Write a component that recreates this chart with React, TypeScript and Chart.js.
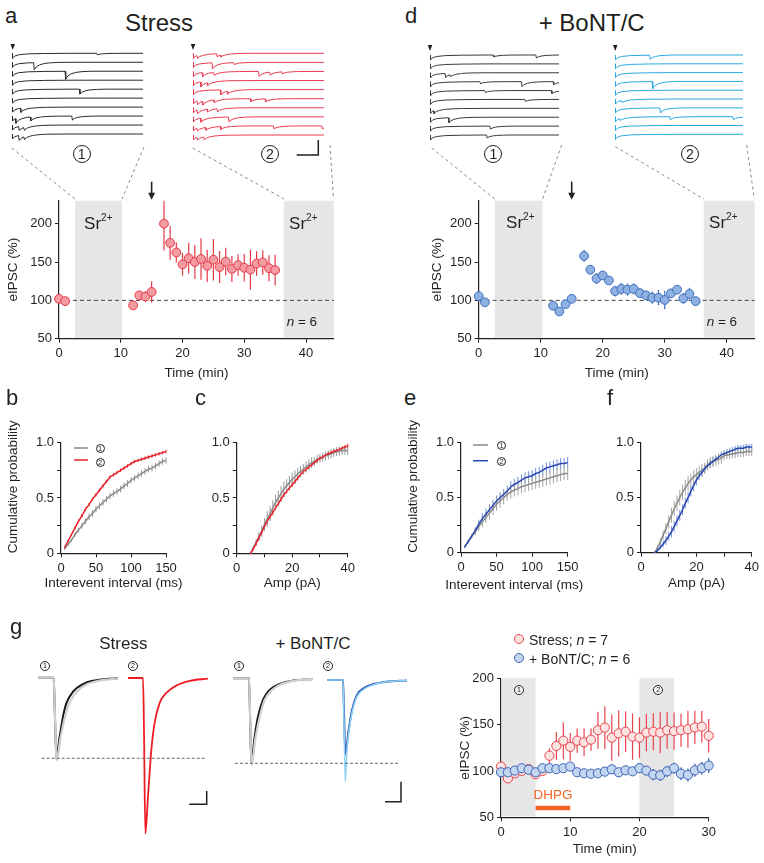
import React, { useEffect, useRef } from "react";
import { Chart, registerables } from "chart.js";
Chart.register(...registerables);

const FONT = '"Liberation Sans", Arial, Helvetica, sans-serif';
const INK = "#231f20";

// ---------------- DATA ----------------
// Panels a / d: eIPSC time course (min, %)
const AD_TIME = [0, 1, 12, 13, 14, 15, 17, 18, 19, 20, 21, 22, 23, 24, 25, 26, 27, 28, 29, 30, 31, 32, 33, 34, 35];
const A_STRESS = [102, 99, 93.5, 106.5, 105, 111, 200, 175, 162.5, 147, 155, 150, 154, 145, 153, 143.5, 150.5, 141, 146, 142.5, 140, 148, 149.5, 142, 139.5];
const A_STRESS_ERR = [2, 2, 5, 4, 7, 14, 35, 22, 13, 15, 20, 22, 27, 21, 27, 21, 18, 17, 14, 18, 26, 16, 16, 17, 20];
const D_BONT = [105.5, 97.5, 93, 85.5, 95, 102, 158, 140, 128.5, 132.5, 126, 112, 115, 114, 115, 109.5, 106.5, 103.5, 103.5, 100.5, 109, 114, 102.5, 108.5, 99];
const D_BONT_ERR = [3, 3, 4, 5, 5, 5, 8, 6, 7, 5, 5, 7, 8, 8, 7, 6, 6, 8, 10, 12, 6, 5, 7, 8, 6];

// Panels b / e: cumulative probability of interevent interval (ms)
const INTERVAL_MS = [5, 10, 15, 20, 25, 30, 35, 40, 45, 50, 55, 60, 65, 70, 75, 80, 85, 90, 95, 100, 105, 110, 115, 120, 125, 130, 135, 140, 145, 150];
const B_GRAY = [0.04, 0.08, 0.12, 0.17, 0.21, 0.25, 0.29, 0.33, 0.36, 0.4, 0.43, 0.46, 0.49, 0.52, 0.54, 0.56, 0.58, 0.61, 0.63, 0.66, 0.68, 0.7, 0.72, 0.74, 0.76, 0.77, 0.79, 0.81, 0.83, 0.84];
const B_GRAY_ERR = [0.01, 0.01, 0.015, 0.02, 0.02, 0.025, 0.025, 0.03, 0.03, 0.03, 0.03, 0.03, 0.03, 0.03, 0.03, 0.03, 0.03, 0.03, 0.03, 0.03, 0.03, 0.03, 0.03, 0.03, 0.03, 0.03, 0.03, 0.03, 0.03, 0.03];
const B_RED = [0.05, 0.11, 0.17, 0.23, 0.29, 0.34, 0.4, 0.44, 0.49, 0.53, 0.57, 0.61, 0.65, 0.69, 0.71, 0.73, 0.75, 0.77, 0.79, 0.81, 0.83, 0.84, 0.85, 0.86, 0.87, 0.88, 0.89, 0.9, 0.91, 0.92];
const B_RED_ERR = [0.01, 0.01, 0.01, 0.012, 0.012, 0.015, 0.015, 0.015, 0.015, 0.015, 0.015, 0.015, 0.015, 0.015, 0.015, 0.015, 0.015, 0.015, 0.015, 0.015, 0.015, 0.015, 0.015, 0.015, 0.015, 0.015, 0.015, 0.015, 0.015, 0.015];
const E_GRAY = [0.05, 0.1, 0.15, 0.19, 0.24, 0.28, 0.32, 0.36, 0.4, 0.44, 0.47, 0.5, 0.53, 0.55, 0.57, 0.58, 0.6, 0.61, 0.62, 0.63, 0.64, 0.65, 0.66, 0.67, 0.68, 0.69, 0.7, 0.71, 0.72, 0.72];
const E_GRAY_ERR = [0.01, 0.015, 0.02, 0.03, 0.04, 0.05, 0.05, 0.06, 0.06, 0.06, 0.06, 0.06, 0.06, 0.06, 0.06, 0.06, 0.06, 0.06, 0.06, 0.06, 0.06, 0.06, 0.06, 0.06, 0.06, 0.06, 0.06, 0.06, 0.06, 0.06];
const E_BLUE = [0.05, 0.1, 0.15, 0.2, 0.26, 0.31, 0.35, 0.39, 0.43, 0.47, 0.5, 0.53, 0.56, 0.6, 0.62, 0.64, 0.66, 0.68, 0.69, 0.7, 0.72, 0.73, 0.75, 0.77, 0.78, 0.79, 0.8, 0.81, 0.81, 0.82];
const E_BLUE_ERR = [0.01, 0.015, 0.02, 0.03, 0.04, 0.05, 0.05, 0.05, 0.05, 0.05, 0.05, 0.05, 0.05, 0.05, 0.05, 0.05, 0.05, 0.05, 0.05, 0.05, 0.05, 0.05, 0.05, 0.05, 0.05, 0.05, 0.05, 0.05, 0.05, 0.05];

// Panels c / f: cumulative probability of amplitude (pA)
const AMP_PA = [5, 6, 7, 8, 9, 10, 11, 12, 13, 14, 15, 16, 17, 18, 19, 20, 21, 22, 23, 24, 25, 26, 27, 28, 29, 30, 31, 32, 33, 34, 35, 36, 37, 38, 39, 40];
const C_GRAY = [0, 0.05, 0.1, 0.15, 0.2, 0.26, 0.31, 0.36, 0.41, 0.46, 0.5, 0.54, 0.58, 0.61, 0.64, 0.67, 0.69, 0.72, 0.74, 0.76, 0.78, 0.8, 0.82, 0.83, 0.85, 0.86, 0.87, 0.88, 0.89, 0.9, 0.91, 0.92, 0.92, 0.93, 0.93, 0.93];
const C_GRAY_ERR = [0.01, 0.02, 0.03, 0.04, 0.05, 0.06, 0.07, 0.07, 0.07, 0.07, 0.07, 0.07, 0.07, 0.06, 0.06, 0.06, 0.06, 0.05, 0.05, 0.05, 0.05, 0.05, 0.05, 0.04, 0.04, 0.04, 0.04, 0.04, 0.04, 0.04, 0.04, 0.04, 0.04, 0.04, 0.04, 0.04];
const C_RED = [0, 0.04, 0.09, 0.14, 0.19, 0.24, 0.29, 0.33, 0.37, 0.41, 0.45, 0.49, 0.53, 0.56, 0.59, 0.62, 0.65, 0.68, 0.71, 0.74, 0.76, 0.78, 0.8, 0.82, 0.84, 0.86, 0.87, 0.89, 0.9, 0.91, 0.92, 0.93, 0.94, 0.95, 0.96, 0.97];
const C_RED_ERR = [0.01, 0.015, 0.02, 0.02, 0.02, 0.02, 0.02, 0.02, 0.02, 0.02, 0.02, 0.02, 0.02, 0.02, 0.02, 0.02, 0.02, 0.02, 0.02, 0.02, 0.02, 0.02, 0.02, 0.02, 0.02, 0.02, 0.02, 0.02, 0.02, 0.02, 0.02, 0.02, 0.02, 0.02, 0.02, 0.02];
const F_GRAY = [0, 0.05, 0.1, 0.16, 0.22, 0.28, 0.34, 0.4, 0.45, 0.5, 0.55, 0.59, 0.63, 0.66, 0.69, 0.71, 0.73, 0.75, 0.77, 0.8, 0.82, 0.83, 0.84, 0.85, 0.86, 0.88, 0.89, 0.89, 0.9, 0.9, 0.91, 0.91, 0.91, 0.92, 0.92, 0.92];
const F_GRAY_ERR = [0.01, 0.02, 0.03, 0.04, 0.05, 0.06, 0.07, 0.07, 0.07, 0.07, 0.07, 0.07, 0.07, 0.06, 0.06, 0.06, 0.06, 0.06, 0.05, 0.05, 0.05, 0.05, 0.05, 0.05, 0.05, 0.04, 0.04, 0.04, 0.04, 0.04, 0.04, 0.04, 0.04, 0.04, 0.04, 0.04];
const F_BLUE = [0, 0.02, 0.05, 0.08, 0.11, 0.15, 0.19, 0.24, 0.29, 0.34, 0.39, 0.45, 0.5, 0.56, 0.61, 0.66, 0.7, 0.73, 0.76, 0.79, 0.81, 0.83, 0.85, 0.87, 0.89, 0.9, 0.91, 0.92, 0.93, 0.94, 0.95, 0.95, 0.95, 0.96, 0.96, 0.96];
const F_BLUE_ERR = [0.01, 0.015, 0.02, 0.03, 0.04, 0.04, 0.05, 0.05, 0.05, 0.05, 0.05, 0.05, 0.05, 0.05, 0.05, 0.05, 0.04, 0.04, 0.04, 0.04, 0.04, 0.04, 0.03, 0.03, 0.03, 0.03, 0.03, 0.03, 0.03, 0.03, 0.03, 0.03, 0.03, 0.03, 0.03, 0.03];

// Panel g: DHPG time course (min, %)
const G_TIME = [0, 1, 2, 3, 4, 5, 6, 7, 8, 9, 10, 11, 12, 13, 14, 15, 16, 17, 18, 19, 20, 21, 22, 23, 24, 25, 26, 27, 28, 29, 30];
const G_STRESS = [104.7, 92, 97.5, 100, 102, 96.4, 100, 116.5, 127, 132.7, 126, 132.7, 131, 133.8, 144, 146.8, 136, 140.6, 142.4, 137, 136, 141.4, 142.4, 141.4, 144, 143, 144, 145, 147, 147.8, 138];
const G_STRESS_ERR = [3, 3, 3, 3, 3, 3, 3, 8, 15, 20, 15, 13, 15, 12, 20, 23, 25, 25, 22, 25, 22, 20, 20, 22, 20, 20, 18, 20, 18, 17, 18];
const G_BONT = [98.6, 98.6, 100.4, 103, 101.4, 98.6, 103, 103, 102, 103, 104.7, 98.6, 97.5, 97, 97.5, 99.3, 101.8, 98.6, 100.7, 99.6, 103, 100.4, 96, 95.3, 99.6, 103, 97, 95.7, 100.7, 103, 105.8];
const G_BONT_ERR = [3, 3, 3, 3, 3, 3, 4, 4, 4, 4, 4, 4, 4, 4, 4, 5, 5, 5, 5, 5, 5, 5, 6, 6, 6, 6, 7, 7, 7, 7, 8];

// Example sweeps: events per sweep as [position in sweep (0-1), amplitude (pA)]
const EVOKED_PA = 25;
const SWEEPS_A1 = [
  [[0.646, 8]], [[0.165, 35]], [[0.405, 40]], [], [[0.514, 25]], [],
  [[0.063, 20]], [[0.025, 25], [0.139, 20], [0.456, 20]], [[0.05, 20], [0.089, 15]], [[0.05, 25], [0.09, 15]],
];
const SWEEPS_A2 = [
  [[0.03, 15], [0.18, 15], [0.208, 10]], [[0.145, 30], [0.31, 10]],
  [[0.069, 20], [0.157, 15], [0.5, 25], [0.584, 15], [0.678, 10]], [[0.056, 25], [0.107, 15]],
  [[0.208, 25], [0.26, 15]], [[0.03, 20], [0.069, 20], [0.157, 15], [0.437, 15], [0.55, 15]],
  [[0.03, 20], [0.107, 15], [0.183, 15]], [[0.056, 20], [0.27, 25]],
  [[0.03, 15], [0.094, 15], [0.208, 15], [0.614, 15], [0.982, 15]], [[0.03, 15], [0.081, 15]],
];
const SWEEPS_D1 = [
  [[0.49, 10], [0.82, 15]], [], [[0.116, 20], [0.155, 10]], [[0.387, 10], [0.709, 25], [0.954, 15]],
  [[0.425, 10], [0.94, 15]], [[0.735, 10]], [[0.026, 15]], [[0.142, 25]], [[0.464, 15]], [[0.438, 15]],
];
const SWEEPS_D2 = [
  [[0.27, 20]], [], [], [[0.29, 35]], [], [[0.05, 10]], [[0.35, 25]],
  [[0.036, 10], [0.427, 15], [0.92, 15]], [], [],
];
// Event / evoked waveform templates (relative)
const EVENT_SHAPE = [[0, 0], [0.005, -1], [0.02, -0.6], [0.045, -0.33], [0.08, -0.15], [0.13, -0.05], [0.2, 0]];
const EVOKED_SHAPE = [[0, 0], [0.004, -1], [0.02, -0.55], [0.05, -0.3], [0.12, -0.12], [0.25, -0.04], [0.45, 0]];

// Panel g averaged eIPSC traces: [ms, pA]
const TR_STRESS_1 = [[0, 0], [19.6, 0], [21, -250], [22.9, -605], [27.1, -442], [31.3, -292], [35.4, -192], [43.8, -105], [56.3, -48], [68.8, -23], [85.4, -10], [100, -5]];
const TR_STRESS_1_SEM = [[0, 0], [19.6, 0], [21, -240], [23.3, -620], [28, -455], [33, -310], [38, -210], [47, -115], [60, -52], [75, -24], [100, -6]];
const TR_STRESS_2 = [[0, 0], [18.8, 0], [20, -400], [21.7, -1167], [25, -887], [29.2, -537], [33.3, -337], [39.6, -187], [47.9, -112], [60.4, -57], [77.1, -22], [100, -5]];
const TR_BONT_1 = [[0, 0], [20, 0], [21.2, -250], [22.9, -637], [27.1, -437], [31.3, -287], [37.5, -162], [45.8, -87], [58.3, -42], [75, -17], [100, -5]];
const TR_BONT_1_SEM = [[0, 0], [20, 0], [21.2, -240], [23.2, -650], [28, -450], [33, -300], [39, -170], [48, -92], [60, -45], [77, -18], [100, -5]];
const TR_BONT_2 = [[0, 0], [20, 0], [21.2, -220], [22.9, -557], [27.1, -375], [31.3, -225], [37.5, -112], [45.8, -62], [58.3, -30], [75, -12], [100, -3]];
const TR_BONT_2_SEM = [[0, 0], [20, 0], [21.2, -300], [22.9, -762], [25, -520], [27.1, -400], [31.3, -245], [37.5, -125], [45.8, -70], [58.3, -35], [75, -14], [100, -3]];

// ---------------- HELPERS ----------------
const pts = (xs: number[], ys: number[]) => xs.map((x, i) => ({ x, y: ys[i] }));

function annotPlugin(a: any) {
  return {
    id: "annot",
    beforeDatasetsDraw(chart: any) {
      const { ctx, chartArea: ca, scales } = chart;
      const x = scales.x, y = scales.y;
      ctx.save();
      (a.bands || []).forEach((b: any) => {
        const x0 = Math.max(x.getPixelForValue(b.from), ca.left + 1);
        const x1 = x.getPixelForValue(b.to);
        ctx.fillStyle = b.color;
        ctx.fillRect(x0, ca.top, x1 - x0, ca.bottom - ca.top - 1);
      });
      (a.hlines || []).forEach((h: any) => {
        const py = y.getPixelForValue(h.y);
        ctx.strokeStyle = h.color;
        ctx.lineWidth = 1;
        ctx.setLineDash(h.dash);
        ctx.beginPath();
        ctx.moveTo(x.getPixelForValue(x.min), py);
        ctx.lineTo(x.getPixelForValue(x.max), py);
        ctx.stroke();
        ctx.setLineDash([]);
      });
      ctx.beginPath();
      ctx.rect(ca.left - 20, ca.top, ca.width + 40, ca.height);
      ctx.clip();
      chart.data.datasets.forEach((ds: any) => {
        if (!ds.errors) return;
        ctx.strokeStyle = ds.errorColor;
        ctx.lineWidth = ds.errorWidth || 1;
        ds.data.forEach((p: any, j: number) => {
          const e = ds.errors[j];
          if (!e) return;
          const px = x.getPixelForValue(p.x);
          ctx.beginPath();
          ctx.moveTo(px, y.getPixelForValue(p.y - e));
          ctx.lineTo(px, y.getPixelForValue(p.y + e));
          ctx.stroke();
        });
      });
      ctx.restore();
    },
    afterDatasetsDraw(chart: any) {
      const { ctx, chartArea: ca, scales } = chart;
      const x = scales.x, y = scales.y;
      ctx.save();
      (a.arrows || []).forEach((ar: any) => {
        const px = x.getPixelForValue(ar.x);
        const y0 = ca.top - ar.len, y1 = ca.top - 1;
        ctx.strokeStyle = INK;
        ctx.fillStyle = INK;
        ctx.lineWidth = 1.6;
        ctx.beginPath();
        ctx.moveTo(px, y0);
        ctx.lineTo(px, y1 - 5);
        ctx.stroke();
        ctx.beginPath();
        ctx.moveTo(px - 3.5, y1 - 7);
        ctx.lineTo(px + 3.5, y1 - 7);
        ctx.lineTo(px, y1);
        ctx.closePath();
        ctx.fill();
      });
      (a.segs || []).forEach((s: any) => {
        const py = y.getPixelForValue(s.y);
        ctx.strokeStyle = s.color;
        ctx.lineWidth = s.width;
        ctx.beginPath();
        ctx.moveTo(x.getPixelForValue(s.x0), py);
        ctx.lineTo(x.getPixelForValue(s.x1), py);
        ctx.stroke();
      });
      (a.texts || []).forEach((t: any) => {
        ctx.fillStyle = t.color;
        ctx.font = `${t.size}px ${FONT}`;
        ctx.textAlign = "center";
        ctx.textBaseline = "alphabetic";
        ctx.fillText(t.text, x.getPixelForValue(t.x), y.getPixelForValue(t.y));
      });
      ctx.restore();
    },
  };
}

function axis(min: number, max: number, ticks: number[], title: string, titleAlign: string, label: (v: number) => string) {
  return {
    type: "linear",
    min,
    max,
    offset: false,
    grid: { display: true, drawOnChartArea: false, drawTicks: true, tickLength: 4, color: INK, lineWidth: 1 },
    border: { display: true, color: INK, width: 1.2 },
    ticks: { color: INK, font: { family: FONT, size: 13 }, padding: 3, maxRotation: 0, autoSkip: false, callback: (v: number) => label(v) },
    afterBuildTicks: (s: any) => {
      s.ticks = ticks.map((v) => ({ value: v }));
    },
    title: { display: !!title, text: title, color: INK, align: titleAlign, font: { family: FONT, size: 13.5 }, padding: 0 },
  };
}

const num = (v: number) => String(v);
const prob = (v: number) => (v === 0 ? "0" : v === 0.5 ? "0.5" : v === 1 ? "1.0" : "");

function PlotChart({ plot, m, build }: any) {
  const ref = useRef<HTMLCanvasElement>(null);
  const left = Math.round(plot.L - m.l);
  const top = Math.round(plot.T - m.t);
  const width = Math.round(plot.R + m.r) - left;
  const height = Math.round(plot.B + m.b) - top;
  const ml = plot.L - left, mt = plot.T - top, mr = left + width - plot.R, mb = top + height - plot.B;
  useEffect(() => {
    const c = build();
    c.options.layout = { padding: { left: 0, top: mt, right: mr, bottom: 0 } };
    c.options.scales.x.afterFit = (s: any) => { s.height = mb; };
    c.options.scales.y.afterFit = (s: any) => { s.width = ml; };
    const chart = new Chart(ref.current as HTMLCanvasElement, c);
    return () => chart.destroy();
  }, []);
  return <canvas ref={ref} width={width} height={height} style={{ position: "absolute", left, top, width, height }} />;
}

function baseOpts(x: any, y: any) {
  return {
    responsive: false,
    animation: false,
    events: [],
    plugins: { legend: { display: false }, tooltip: { enabled: false } },
    scales: { x, y },
  };
}

function timecourse(series: any[], x: any, y: any, annot: any) {
  return () => ({
    type: "scatter",
    data: {
      datasets: series.map((s) => ({
        data: pts(s.x, s.y),
        errors: s.err,
        errorColor: s.errColor,
        errorWidth: 1.2,
        showLine: false,
        pointRadius: s.r,
        pointBackgroundColor: s.fill,
        pointBorderColor: s.border,
        pointBorderWidth: 1,
        clip: false,
      })),
    },
    options: baseOpts(x, y),
    plugins: [annotPlugin(annot)],
  });
}

function cumulative(series: any[], x: any, y: any) {
  return () => ({
    type: "scatter",
    data: {
      datasets: series.map((s) => ({
        data: pts(s.x, s.y),
        errors: s.err,
        errorColor: s.errColor,
        errorWidth: 1,
        showLine: true,
        borderColor: s.color,
        borderWidth: 1.5,
        pointRadius: 0,
        tension: 0,
        clip: false,
      })),
    },
    options: baseOpts(x, y),
    plugins: [annotPlugin({})],
  });
}

function TraceChart({ left, top, width, height, xMin, xMax, yMin, yMax, datasets }: any) {
  const ref = useRef<HTMLCanvasElement>(null);
  useEffect(() => {
    const chart = new Chart(ref.current as HTMLCanvasElement, {
      type: "scatter",
      data: { datasets },
      options: {
        responsive: false,
        animation: false,
        events: [],
        layout: { padding: 0 },
        plugins: { legend: { display: false }, tooltip: { enabled: false } },
        scales: {
          x: { type: "linear", display: false, min: xMin, max: xMax },
          y: { type: "linear", display: false, min: yMin, max: yMax },
        },
      },
    } as any);
    return () => chart.destroy();
  }, []);
  return <canvas ref={ref} width={width} height={height} style={{ position: "absolute", left, top, width, height }} />;
}

function shapeAt(shape: number[][], dt: number) {
  if (dt <= 0 || dt >= shape[shape.length - 1][0]) return 0;
  for (let k = 1; k < shape.length; k++) {
    if (dt <= shape[k][0]) {
      const [x0, y0] = shape[k - 1];
      const [x1, y1] = shape[k];
      return y0 + ((y1 - y0) * (dt - x0)) / (x1 - x0);
    }
  }
  return 0;
}

function sweepPoints(events: number[][], evoked: number, base: number) {
  const evs = [{ p: 0, a: evoked, s: EVOKED_SHAPE }, ...events.map(([p, a]) => ({ p, a, s: EVENT_SHAPE }))];
  const xs = new Set<number>([0, 1]);
  evs.forEach((e) => e.s.forEach(([dx]) => {
    const v = +(e.p + dx).toFixed(5);
    if (v >= 0 && v <= 1) xs.add(v);
  }));
  return [...xs].sort((a, b) => a - b).map((xv) => ({
    x: xv,
    y: base + evs.reduce((acc, e) => acc + e.a * shapeAt(e.s, xv - e.p), 0),
  }));
}

const PA_PER_PX_SWEEP = 5;
function SweepStack({ x0, x1, y0, y1, sweeps, color }: any) {
  const left = Math.round(x0);
  const width = Math.round(x1) - left;
  const top = Math.round(y0 - 8);
  const bottom = Math.round(y1 + 14);
  const spacing = ((y1 - y0) / (sweeps.length - 1)) * PA_PER_PX_SWEEP;
  const datasets = sweeps.map((ev: number[][], i: number) => ({
    data: sweepPoints(ev, EVOKED_PA, -i * spacing),
    showLine: true,
    borderColor: color,
    borderWidth: 1,
    pointRadius: 0,
    tension: 0,
    clip: false,
  }));
  return (
    <TraceChart left={left} top={top} width={width} height={bottom - top} xMin={0} xMax={1}
      yMax={(y0 - top) * PA_PER_PX_SWEEP} yMin={-(bottom - y0) * PA_PER_PX_SWEEP} datasets={datasets} />
  );
}

const PA_PER_PX_TRACE = 7.5;
function EpscTrace({ x0, x1, base, traces }: any) {
  const left = Math.round(x0);
  const width = Math.round(x1) - left;
  const top = 668, bottom = 842;
  const datasets = traces.map((t: any) => ({
    data: t.d.map(([x, y]: number[]) => ({ x, y })),
    showLine: true,
    borderColor: t.color,
    borderWidth: t.w,
    pointRadius: 0,
    cubicInterpolationMode: "monotone",
    clip: false,
  }));
  return (
    <TraceChart left={left} top={top} width={width} height={bottom - top} xMin={0} xMax={100}
      yMax={(base - top) * PA_PER_PX_TRACE} yMin={-(bottom - base) * PA_PER_PX_TRACE} datasets={datasets} />
  );
}

function Txt({ x, y, size, align = "left", children, color = INK, italic = false }: any) {
  return (
    <div style={{
      position: "absolute", left: x, top: y - 0.8465 * size, fontSize: size, lineHeight: `${size}px`,
      fontFamily: FONT, color, whiteSpace: "nowrap", fontStyle: italic ? "italic" : "normal",
      transform: align === "center" ? "translateX(-50%)" : undefined,
    }}>{children}</div>
  );
}

function Circ({ cx, cy, d, n, size }: any) {
  return (
    <div style={{
      position: "absolute", left: cx - d / 2, top: cy - d / 2, width: d, height: d, boxSizing: "border-box",
      border: `1px solid ${INK}`, borderRadius: "50%", fontSize: size, lineHeight: `${d - 2}px`,
      textAlign: "center", fontFamily: FONT, color: INK, background: "#fff",
    }}>{n}</div>
  );
}

function Dot({ cx, cy, d, fill, border }: any) {
  return <div style={{ position: "absolute", left: cx - d / 2, top: cy - d / 2, width: d, height: d, boxSizing: "border-box", border: `1.2px solid ${border}`, borderRadius: "50%", background: fill }} />;
}

const Sr = ({ x, y }: any) => (
  <Txt x={x} y={y} size={17} align="center">Sr<span style={{ fontSize: 10, position: "relative", top: -8 }}>2+</span></Txt>
);

const N6 = ({ x, y }: any) => (
  <Txt x={x} y={y} size={13.5}><i>n</i> = 6</Txt>
);

// ---------------- APP ----------------
export default function App() {
  const RED_M = { fill: "#f49aa1", border: "#e63946", err: "#e63946" };
  const BLUE_M = { fill: "#8fb1e2", border: "#3f6fc0", err: "#3f6fc0" };
  const bandGray = "#e6e6e6";

  const adY = () => axis(50, 230, [50, 100, 150, 200], "eIPSC (%)", "center", num);

  return (
    <div style={{ position: "absolute", left: 0, top: 0, width: 764, height: 863, background: "#fff", overflow: "hidden" }}>
      {/* ---- Panel a ---- */}
      <Txt x={5} y={23.3} size={22}>a</Txt>
      <Txt x={159} y={31.7} size={24} align="center">Stress</Txt>
      <SweepStack x0={11.7} x1={143.3} y0={53.3} y1={134} sweeps={SWEEPS_A1} color="#2a2a2a" />
      <SweepStack x0={192.7} x1={324} y0={53.3} y1={135} sweeps={SWEEPS_A2} color="#ea3a4f" />
      <Circ cx={81.7} cy={154} d={18} n="1" size={14} />
      <Circ cx={270} cy={154} d={18} n="2" size={14} />
      <PlotChart plot={{ L: 59, T: 200.7, R: 333.8, B: 338.7 }} m={{ l: 53.8, t: 23, r: 6, b: 42.1 }}
        build={timecourse(
          [{ x: AD_TIME, y: A_STRESS, err: A_STRESS_ERR, r: 4.4, fill: RED_M.fill, border: RED_M.border, errColor: RED_M.err }],
          axis(0, 44.5, [0, 10, 20, 30, 40], "Time (min)", "center", num), adY(),
          { bands: [{ from: 2.6, to: 10.2, color: bandGray }, { from: 36.4, to: 44.5, color: bandGray }],
            hlines: [{ y: 100, color: "#444", dash: [4, 3] }], arrows: [{ x: 15, len: 19 }] })} />
      <Sr x={98.3} y={229.3} />
      <Sr x={303.3} y={229.3} />
      <N6 x={286.7} y={326.7} />

      {/* ---- Panel d ---- */}
      <Txt x={405} y={23.3} size={22}>d</Txt>
      <Txt x={591.7} y={31.7} size={24} align="center">+ BoNT/C</Txt>
      <SweepStack x0={430} x1={559.3} y0={55} y1={135} sweeps={SWEEPS_D1} color="#3a3a3a" />
      <SweepStack x0={615.3} x1={743.3} y0={55} y1={134.3} sweeps={SWEEPS_D2} color="#27a9e1" />
      <Circ cx={493.3} cy={154} d={18} n="1" size={14} />
      <Circ cx={690} cy={154} d={18} n="2" size={14} />
      <PlotChart plot={{ L: 478.7, T: 200.7, R: 754.6, B: 338.7 }} m={{ l: 50.1, t: 23, r: 6, b: 42.1 }}
        build={timecourse(
          [{ x: AD_TIME, y: D_BONT, err: D_BONT_ERR, r: 4.4, fill: BLUE_M.fill, border: BLUE_M.border, errColor: BLUE_M.err }],
          axis(0, 44.5, [0, 10, 20, 30, 40], "Time (min)", "center", num), adY(),
          { bands: [{ from: 2.6, to: 10.3, color: bandGray }, { from: 36.3, to: 44.5, color: bandGray }],
            hlines: [{ y: 100, color: "#444", dash: [4, 3] }], arrows: [{ x: 15, len: 19 }] })} />
      <Sr x={520.3} y={228.3} />
      <Sr x={723.3} y={228.3} />
      <N6 x={706.7} y={326.7} />

      {/* ---- Panels b, c ---- */}
      <Txt x={6} y={406} size={22}>b</Txt>
      <Txt x={195} y={406} size={22}>c</Txt>
      <PlotChart plot={{ L: 61, T: 442.7, R: 166, B: 553.3 }} m={{ l: 55.8, t: 34, r: 14, b: 37.5 }}
        build={cumulative(
          [{ x: INTERVAL_MS, y: B_RED, err: B_RED_ERR, color: "#e8202a", errColor: "#e8202a" },
           { x: INTERVAL_MS, y: B_GRAY, err: B_GRAY_ERR, color: "#8a8a8a", errColor: "#9a9a9a" }],
          axis(0, 150, [0, 50, 100, 150], "", "center", num),
          axis(0, 1, [0, 0.25, 0.5, 0.75, 1], "Cumulative probability", "start", prob))} />
      <Txt x={113.5} y={587.5} size={13.5} align="center">Interevent interval (ms)</Txt>
      <PlotChart plot={{ L: 236.7, T: 442.7, R: 347.7, B: 553.3 }} m={{ l: 40, t: 12, r: 12, b: 37.5 }}
        build={cumulative(
          [{ x: AMP_PA, y: C_RED, err: C_RED_ERR, color: "#e8202a", errColor: "#e8202a" },
           { x: AMP_PA, y: C_GRAY, err: C_GRAY_ERR, color: "#8a8a8a", errColor: "#9a9a9a" }],
          axis(0, 40, [0, 10, 20, 30, 40], "Amp (pA)", "center", (v) => (v % 20 === 0 ? String(v) : "")),
          axis(0, 1, [0, 0.25, 0.5, 0.75, 1], "", "center", prob))} />

      {/* ---- Panels e, f ---- */}
      <Txt x={404} y={406} size={22}>e</Txt>
      <Txt x={607} y={406} size={22}>f</Txt>
      <PlotChart plot={{ L: 461, T: 442.7, R: 567.7, B: 552.7 }} m={{ l: 55.8, t: 34, r: 14, b: 40.4 }}
        build={cumulative(
          [{ x: INTERVAL_MS, y: E_BLUE, err: E_BLUE_ERR, color: "#2846b0", errColor: "#6f8fe0" },
           { x: INTERVAL_MS, y: E_GRAY, err: E_GRAY_ERR, color: "#8a8a8a", errColor: "#a5a5a5" }],
          axis(0, 150, [0, 50, 100, 150], "", "center", num),
          axis(0, 1, [0, 0.25, 0.5, 0.75, 1], "Cumulative probability", "start", prob))} />
      <Txt x={514.3} y={589.8} size={13.5} align="center">Interevent interval (ms)</Txt>
      <PlotChart plot={{ L: 641, T: 442.7, R: 752.3, B: 552.7 }} m={{ l: 40, t: 12, r: 10, b: 38.1 }}
        build={cumulative(
          [{ x: AMP_PA, y: F_BLUE, err: F_BLUE_ERR, color: "#2846b0", errColor: "#6f8fe0" },
           { x: AMP_PA, y: F_GRAY, err: F_GRAY_ERR, color: "#8a8a8a", errColor: "#a5a5a5" }],
          axis(0, 40, [0, 10, 20, 30, 40], "Amp (pA)", "center", (v) => (v % 20 === 0 ? String(v) : "")),
          axis(0, 1, [0, 0.25, 0.5, 0.75, 1], "", "center", prob))} />

      {/* legends b / e */}
      <Circ cx={100} cy={448} d={9} n="1" size={7.5} />
      <Circ cx={100} cy={462} d={9} n="2" size={7.5} />
      <Circ cx={501.7} cy={445.7} d={9} n="1" size={7.5} />
      <Circ cx={501.7} cy={461.5} d={9} n="2" size={7.5} />

      {/* ---- Panel g ---- */}
      <Txt x={10} y={635} size={22}>g</Txt>
      <Txt x={123.3} y={649} size={17} align="center">Stress</Txt>
      <Txt x={313} y={649} size={17} align="center">+ BoNT/C</Txt>
      <EpscTrace x0={38} x1={118} base={677.7}
        traces={[{ d: TR_STRESS_1_SEM, color: "#cfcfcf", w: 2.2 }, { d: TR_STRESS_1, color: "#151515", w: 2 }]} />
      <EpscTrace x0={128} x1={208} base={678}
        traces={[{ d: TR_STRESS_2, color: "#ee1c25", w: 1.8 }]} />
      <EpscTrace x0={233} x1={313} base={678.3}
        traces={[{ d: TR_BONT_1_SEM, color: "#cfcfcf", w: 2.2 }, { d: TR_BONT_1, color: "#151515", w: 2 }]} />
      <EpscTrace x0={326.7} x1={406.7} base={680}
        traces={[{ d: TR_BONT_2_SEM, color: "#8fd3f4", w: 1.5 }, { d: TR_BONT_2, color: "#2a4fb0", w: 2 }]} />
      <Circ cx={45} cy={666} d={10} n="1" size={8} />
      <Circ cx={133} cy={666} d={10} n="2" size={8} />
      <Circ cx={239} cy={666} d={10} n="1" size={8} />
      <Circ cx={328} cy={666} d={10} n="2" size={8} />

      <PlotChart plot={{ L: 501, T: 678.3, R: 708.7, B: 817.3 }} m={{ l: 44.1, t: 12, r: 10, b: 40.1 }}
        build={timecourse(
          [{ x: G_TIME, y: G_BONT, err: G_BONT_ERR, r: 4.6, fill: "#c3d6ef", border: "#3d62b8", errColor: "#3d62b8" },
           { x: G_TIME, y: G_STRESS, err: G_STRESS_ERR, r: 4.6, fill: "#fde2e2", border: "#e8444c", errColor: "#e8444c" }],
          axis(0, 30, [0, 10, 20, 30], "Time (min)", "center", num),
          axis(50, 200, [50, 100, 150, 200], "eIPSC (%)", "center", num),
          { bands: [{ from: 0, to: 5, color: bandGray }, { from: 20, to: 25, color: bandGray }],
            segs: [{ x0: 5, x1: 10, y: 60, color: "#f26522", width: 4.5 }],
            texts: [{ x: 7.5, y: 69.5, text: "DHPG", color: "#f26522", size: 13.5 }] })} />
      <Circ cx={519} cy={690} d={10} n="1" size={8} />
      <Circ cx={658.3} cy={690} d={10} n="2" size={8} />
      <Dot cx={519} cy={639.3} d={10} fill="#fde2e2" border="#e8444c" />
      <Txt x={529} y={644.5} size={14}>Stress; <i>n</i> = 7</Txt>
      <Dot cx={519} cy={658.3} d={10} fill="#c3d6ef" border="#3d62b8" />
      <Txt x={529} y={663.5} size={14}>+ BoNT/C; <i>n</i> = 6</Txt>

      {/* ---- decorative overlay ---- */}
      <svg width={764} height={863} style={{ position: "absolute", left: 0, top: 0, pointerEvents: "none" }}>
        <g stroke="#8a8a8a" strokeWidth={1} strokeDasharray="3 3" fill="none">
          <line x1={11.7} y1={148} x2={75} y2={199} />
          <line x1={144} y1={147} x2={122} y2={199} />
          <line x1={192.7} y1={148} x2={284} y2={199} />
          <line x1={330} y1={145} x2={333.5} y2={199} />
          <line x1={431.7} y1={148} x2={494.8} y2={199} />
          <line x1={561.7} y1={145} x2={542.6} y2={199} />
          <line x1={615.3} y1={146.7} x2={703.8} y2={199} />
          <line x1={746.7} y1={145} x2={754.3} y2={199} />
        </g>
        <g fill={INK}>
          <polygon points="10.5,44 15,44 12.7,50" />
          <polygon points="190.8,44 195.3,44 193,50" />
          <polygon points="427.8,45 432.3,45 430,51" />
          <polygon points="613,45 617.5,45 615.3,51" />
        </g>
        <g stroke={INK} strokeWidth={1.5} fill="none">
          <polyline points="296.7,155 318.3,155 318.3,140" />
          <polyline points="189.3,804.3 206.7,804.3 206.7,791" />
          <polyline points="385,801.7 401,801.7 401,781.7" />
        </g>
        <g strokeWidth={1.5}>
          <line x1={74} y1={448} x2={88} y2={448} stroke="#8a8a8a" />
          <line x1={74} y1={460} x2={88} y2={460} stroke="#e8202a" />
          <line x1={473} y1={445} x2={488} y2={445} stroke="#8a8a8a" />
          <line x1={473} y1={460.7} x2={488} y2={460.7} stroke="#2846b0" />
        </g>
        <g stroke="#666" strokeWidth={1} strokeDasharray="3 2">
          <line x1={41.7} y1={758.3} x2={206.7} y2={758.3} />
          <line x1={235} y1={763.3} x2={400} y2={763.3} />
        </g>
      </svg>
    </div>
  );
}
